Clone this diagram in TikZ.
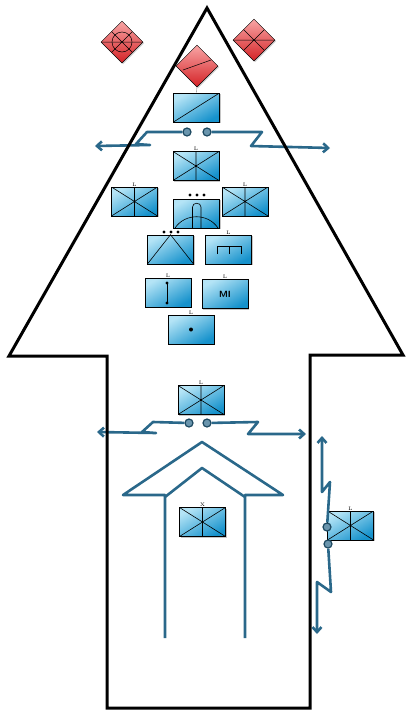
\documentclass[tikz,border=0pt]{standalone}
\usetikzlibrary{arrows.meta,calc,shadows,shapes.geometric}
\definecolor{wirecol}{RGB}{42,104,138}
\definecolor{boxlight}{RGB}{180,228,246}
\definecolor{boxdark}{RGB}{22,146,204}
\definecolor{redlight}{RGB}{248,165,165}
\definecolor{reddark}{RGB}{212,34,38}
\tikzset{
  panel/.style={draw=black, line width=0.6pt, minimum width=46pt, minimum height=29pt, inner sep=0pt,
    top color=boxlight, bottom color=boxdark, shading angle=30,
    drop shadow={shadow xshift=1.3pt, shadow yshift=-1.3pt, opacity=0.45}},
  xbox/.style={panel, path picture={
    \draw[line width=0.6pt] (path picture bounding box.north west) -- (path picture bounding box.south east)
      (path picture bounding box.south west) -- (path picture bounding box.north east)
      (path picture bounding box.north) -- (path picture bounding box.south);}},
  diagbox/.style={panel, path picture={
    \draw[line width=0.6pt] (path picture bounding box.south west) -- (path picture bounding box.north east);}},
  rhomb/.style={diamond, aspect=1, minimum size=42pt, inner sep=0pt, draw=black, line width=0.5pt,
    top color=redlight, bottom color=reddark,
    drop shadow={shadow xshift=1.2pt, shadow yshift=-1.2pt, opacity=0.35}},
  crossed/.style={path picture={
    \draw[line width=0.5pt]
      ($(path picture bounding box.north west)!.5!(path picture bounding box.center)$) -- ($(path picture bounding box.south east)!.5!(path picture bounding box.center)$)
      ($(path picture bounding box.north east)!.5!(path picture bounding box.center)$) -- ($(path picture bounding box.south west)!.5!(path picture bounding box.center)$)
      (path picture bounding box.west) -- (path picture bounding box.east);}},
  tag/.style={font=\fontsize{5}{5}\selectfont, inner sep=0.4pt},
  brk/.style={circle, draw=wirecol!70!black, fill=wirecol!70!white, line width=1.2pt, minimum size=8pt, inner sep=0pt},
  wire/.style={draw=wirecol, line width=2.6pt, line join=round},
  tip/.style={-{Straight Barb[length=5pt,width=9pt]}}
}
\begin{document}
\begin{tikzpicture}[x=1pt,y=-1pt]
\useasboundingbox (0,0) rectangle (405,710);

% house
\draw[wire] (165,638) -- (165,495) -- (123,495) -- (202,442) -- (283,495) -- (245,495) -- (245,638);
\draw[wire] (165,497) -- (202,468) -- (245,497);

% red diamonds
\node[rhomb, crossed] (dl) at (122,42) {};
\node[rhomb, crossed] (dr) at (254,40) {};
\node[rhomb] (dm) at (197,66) {};
\draw[line width=0.5pt] (dl.center) circle[radius=10];
\draw[line width=0.5pt] ([shift={(-14,4)}]dm.center) -- ([shift={(14,-6)}]dm.center);

% boxes
\node[diagbox] (xfmr) at (196.5,107.5) {};
\draw[gray, line width=0.4pt] (dm.south) -- (xfmr.north);
\node[xbox, label={[tag]above:L}] (fdr) at (196,166) {};
\node[xbox, label={[tag]above:L}] (fdrl) at (134.5,201.5) {};
\node[panel] (dome) at (196.5,213.5) {};
\node[xbox, label={[tag]above:L}] (fdrr) at (245,201.5) {};
\node[panel] (tri) at (170.5,249.5) {};
\node[panel, label={[tag]above:L}] (comb) at (228.5,249.5) {};
\node[panel, label={[tag]above:L}] (rod) at (168,292.5) {};
\node[panel, label={[tag]above:L}, font=\sffamily\bfseries\small] (mi) at (225,294) {MI};
\node[panel, label={[tag]above:L}] (pt) at (191,329.5) {};
\node[xbox, label={[tag]above:L}] (fdrlo) at (201,400) {};
\node[xbox, label={[tag]above:X}] (home) at (202.5,522) {};
\node[xbox, label={[tag]above:L}] (side) at (350.5,525.5) {};

% symbols
\foreach \x in {190,197,204} \fill (\x,195) circle[radius=1.7];
\foreach \x in {164,171,178} \fill (\x,232) circle[radius=1.7];
\draw[line width=0.6pt] (175,228) .. controls (185,213) and (208,213) .. (218,228);
\draw[line width=0.6pt] (192.5,228) -- (192.5,207) .. controls (192.5,202) and (201,202) .. (201,207) -- (201,228);
\draw[line width=0.6pt] (tri.south west) -- (tri.north) -- (tri.south east);
\draw[line width=0.8pt] (217,254) -- (217,246) -- (241,246) -- (241,254) (229,246) -- (229,254);
\draw[line width=0.6pt] (167,283) -- (167,303);
\fill (167,283) circle[radius=1.6] (167,303) circle[radius=1.6];
\fill (pt.center) circle[radius=2];

% breakers and lines
\node[brk] (b1l) at (187,132) {};
\node[brk] (b1r) at (207,132) {};
\node[brk] (b2l) at (189,423) {};
\node[brk] (b2r) at (207,423) {};
\node[brk] (b3t) at (327,527) {};
\node[brk] (b3b) at (328,544) {};
\coordinate (ea) at (95,146);
\coordinate (eb) at (330,148);
\coordinate (ec) at (97,432);
\coordinate (ed) at (306,434);
\coordinate (ee) at (322,436);
\coordinate (ef) at (317,634);
\draw[wire, tip] (b1l) -- (147,132) -- (136,144) -- (150,145) -- (ea);
\draw[wire, tip] (b1r) -- (262,132) -- (251,146) -- (eb);
\draw[wire, tip] (b2l) -- (153,422) -- (142,432) -- (156,433) -- (ec);
\draw[wire, tip] (b2r) -- (258,422) -- (248,434) -- (ed);
\draw[wire, tip] (b3t) -- (330,482) -- (322,492) -- (ee);
\draw[wire, tip] (b3b) -- (331,592) -- (317,582) -- (ef);

% big arrow
\draw[line width=3pt] (107,708) -- (107,356) -- (9,356) -- (207,8) -- (403,355) -- (310,355) -- (310,708) -- cycle;
\end{tikzpicture}
\end{document}
